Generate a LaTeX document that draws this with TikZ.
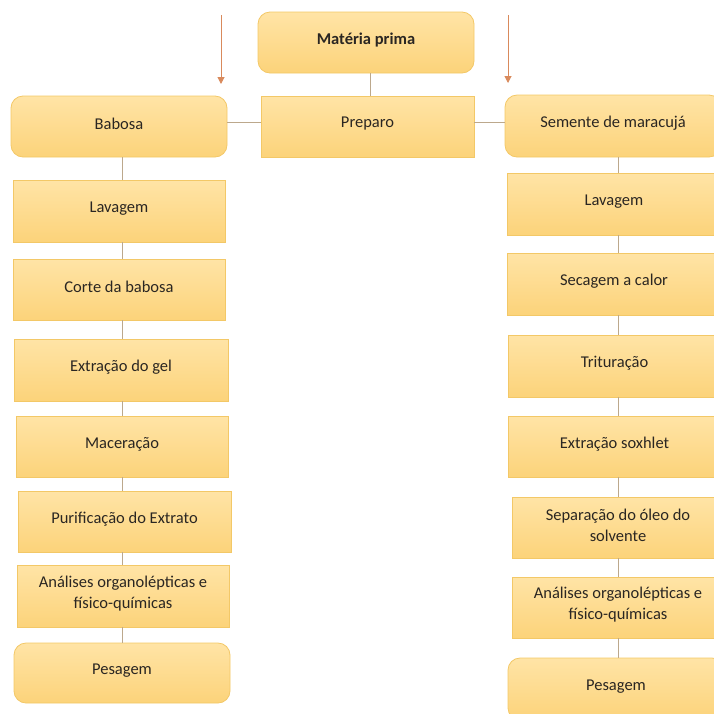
\documentclass[tikz,border=0pt]{standalone}
\usepackage{fontspec}
\setmainfont{Carlito}
\usetikzlibrary{arrows.meta,calc}
\definecolor{boxtop}{HTML}{FFE4A6}
\definecolor{boxbot}{HTML}{FCD37A}
\definecolor{boxline}{HTML}{F3C867}
\definecolor{conn}{HTML}{BCA88C}
\definecolor{arr}{HTML}{D98A5C}
\definecolor{txt}{HTML}{2A2622}
\begin{document}
\begin{tikzpicture}[x=1pt,y=-1pt,
  box/.style={draw=boxline, line width=0.8pt, top color=boxtop, bottom color=boxbot, inner sep=0pt},
  rbox/.style={box, rounded corners=12pt},
  lbl/.style={text=txt, font=\fontsize{16.5}{21}\selectfont, align=center, inner sep=0pt},
  link/.style={draw=conn, line width=1pt},
  arrowdown/.style={draw=arr, line width=1pt, -{Triangle[length=7pt,width=7pt]}}]
\useasboundingbox (0,0) rectangle (714,713);
\begin{scope}
\clip (0,0) rectangle (714,713);
\newcommand{\mybox}[7]{%
  \node[#1, minimum width={#4-#2}, minimum height={#5-#3}] (#6) at ({(#2+#4)/2},{(#3+#5)/2}) {};
  \node[lbl] (#6-t) at ($(#6.center)+(0,-2.5)$) {#7};}
% top
\mybox{rbox}{258}{12}{474}{73}{mp}{\textbf{Matéria prima}}
\mybox{box}{261}{96}{474}{157}{prep}{Preparo}
\mybox{rbox}{11}{96}{227}{157}{bab}{Babosa}
\mybox{rbox}{505}{95}{721}{157}{sem}{Semente de maracujá}
% left column
\mybox{box}{13}{180}{225}{242}{lava}{Lavagem}
\mybox{box}{13}{259}{225}{320}{cor}{Corte da babosa}
\mybox{box}{14}{339}{228}{401}{ext}{Extração do gel}
\mybox{box}{16}{416}{228}{477}{mac}{Maceração}
\mybox{box}{18}{491}{231}{552}{pur}{Purificação do Extrato}
\mybox{box}{17}{565}{229}{627}{anaa}{Análises organolépticas e\\físico-químicas}
\mybox{rbox}{14}{643}{230}{703}{pesa}{Pesagem}
% right column
\mybox{box}{507}{173}{721}{235}{lavb}{Lavagem}
\mybox{box}{507}{253}{721}{315}{sec}{Secagem a calor}
\mybox{box}{508}{335}{721}{397}{tri}{Trituração}
\mybox{box}{508}{416}{721}{477}{sox}{Extração soxhlet}
\mybox{box}{512}{497}{724}{558}{sep}{Separação do óleo do\\solvente}
\mybox{box}{512}{577}{724}{638}{anab}{Análises organolépticas e\\físico-químicas}
\mybox{rbox}{508}{658}{724}{720}{pesb}{Pesagem}
\end{scope}
% column axes
\coordinate (lx) at (122.5,0);
\coordinate (rx) at (618,0);
\coordinate (mx) at (370,0);
\coordinate (hy) at (0,122);
% connectors
\draw[link] (mp.south -| mx) -- (prep.north -| mx);
\draw[link] (prep.west |- hy) -- (bab.east |- hy);
\draw[link] (prep.east |- hy) -- (sem.west |- hy);
\foreach \a/\b in {bab/lava,lava/cor,cor/ext,ext/mac,mac/pur,pur/anaa,anaa/pesa}
  \draw[link] (\a.south -| lx) -- (\b.north -| lx);
\foreach \a/\b in {sem/lavb,lavb/sec,sec/tri,tri/sox,sox/sep,sep/anab,anab/pesb}
  \draw[link] (\a.south -| rx) -- (\b.north -| rx);
% free arrows
\coordinate (la1) at (221,15);
\coordinate (la2) at (221,84);
\coordinate (ra1) at (508,15);
\coordinate (ra2) at (508,83);
\draw[arrowdown] (la1) -- (la2);
\draw[arrowdown] (ra1) -- (ra2);
\end{tikzpicture}
\end{document}
